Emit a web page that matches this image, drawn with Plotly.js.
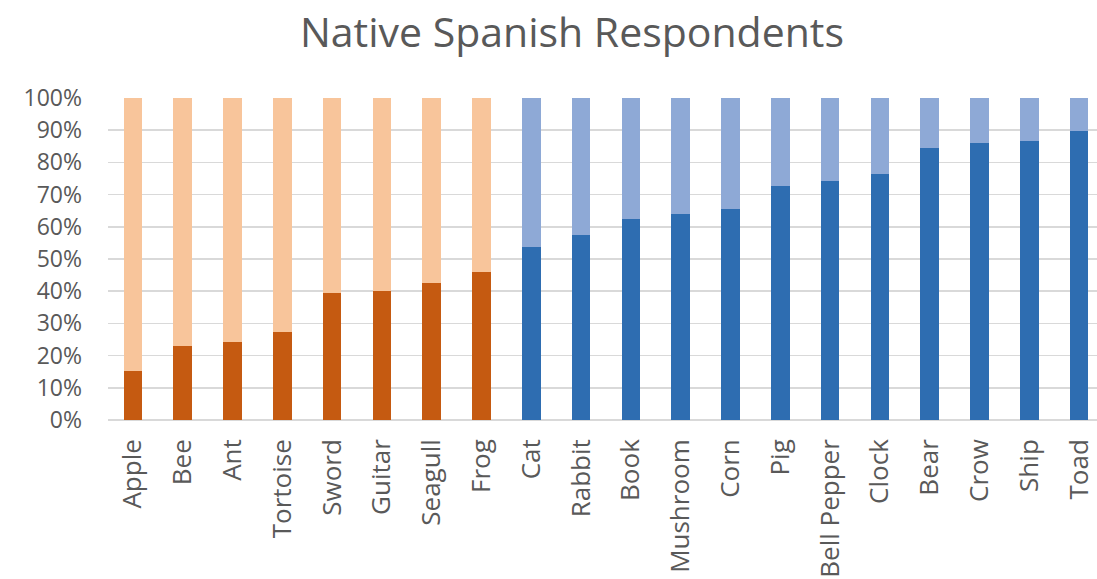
<!DOCTYPE html>
<html>
<head>
<meta charset="utf-8">
<script src="https://cdn.plot.ly/plotly-3.0.1.min.js"></script>
<style>
  html, body { margin: 0; padding: 0; background: #ffffff; }
  #chart { width: 1097px; height: 579px; }
</style>
</head>
<body>
<div id="chart"></div>
<script>
// Picture names, split into the two groups shown in orange and in blue
const orangeItems = ["Apple", "Bee", "Ant", "Tortoise", "Sword", "Guitar", "Seagull", "Frog"];
const blueItems = ["Cat", "Rabbit", "Book", "Mushroom", "Corn", "Pig", "Bell Pepper",
                   "Clock", "Bear", "Crow", "Ship", "Toad"];

// Share of respondents (%) in the lower, darker segment of each bar
const orangeShare = [15.2, 23.0, 24.2, 27.4, 39.3, 40.0, 42.7, 45.9];
const blueShare = [53.8, 57.6, 62.5, 63.9, 65.6, 72.6, 74.1, 76.4, 84.4, 86.0, 86.8, 89.9];

// Y axis tick labels
const yTickValues = [0, 10, 20, 30, 40, 50, 60, 70, 80, 90, 100];
const yTickLabels = ["0%", "10%", "20%", "30%", "40%", "50%", "60%", "70%", "80%", "90%", "100%"];

const allItems = orangeItems.concat(blueItems);
const textGrey = "#595959";
const font = "'Open Sans', 'Noto Sans', sans-serif";

function rest(arr) { return arr.map(v => 100 - v); }

const traces = [
  { x: orangeItems, y: orangeShare, type: "bar", marker: { color: "#C55A11" }, hoverinfo: "x+y" },
  { x: orangeItems, y: rest(orangeShare), type: "bar", marker: { color: "#F8C59B" }, hoverinfo: "x+y" },
  { x: blueItems, y: blueShare, type: "bar", marker: { color: "#2E6DB1" }, hoverinfo: "x+y" },
  { x: blueItems, y: rest(blueShare), type: "bar", marker: { color: "#8EA9D6" }, hoverinfo: "x+y" }
];

const layout = {
  width: 1097,
  height: 579,
  barmode: "stack",
  bargap: 0.625,
  showlegend: false,
  paper_bgcolor: "#ffffff",
  plot_bgcolor: "#ffffff",
  margin: { l: 108, r: 0, t: 98, b: 159 },
  font: { family: font, color: textGrey },
  title: {
    text: "Native Spanish Respondents",
    font: { family: font, size: 41, color: textGrey },
    xref: "container", x: 0.5214, xanchor: "center",
    yref: "container", y: 0.943, yanchor: "middle"
  },
  xaxis: {
    type: "category",
    categoryorder: "array",
    categoryarray: allItems,
    range: [-0.5, 19.36],
    tickangle: -90,
    tickfont: { family: font, size: 26, color: textGrey },
    ticks: "",
    ticklabelstandoff: 13,
    showgrid: false,
    showline: false,
    zeroline: false
  },
  yaxis: {
    range: [0, 100],
    tickvals: yTickValues,
    ticktext: yTickLabels,
    tickfont: { family: font, size: 23, color: textGrey },
    ticks: "",
    ticklabelstandoff: 25,
    showgrid: true,
    gridcolor: "#D9D9D9",
    gridwidth: 1.5,
    zeroline: true,
    zerolinecolor: "#D9D9D9",
    zerolinewidth: 1.5,
    showline: false
  }
};

Plotly.newPlot("chart", traces, layout, { displayModeBar: false, staticPlot: true });
</script>
</body>
</html>
